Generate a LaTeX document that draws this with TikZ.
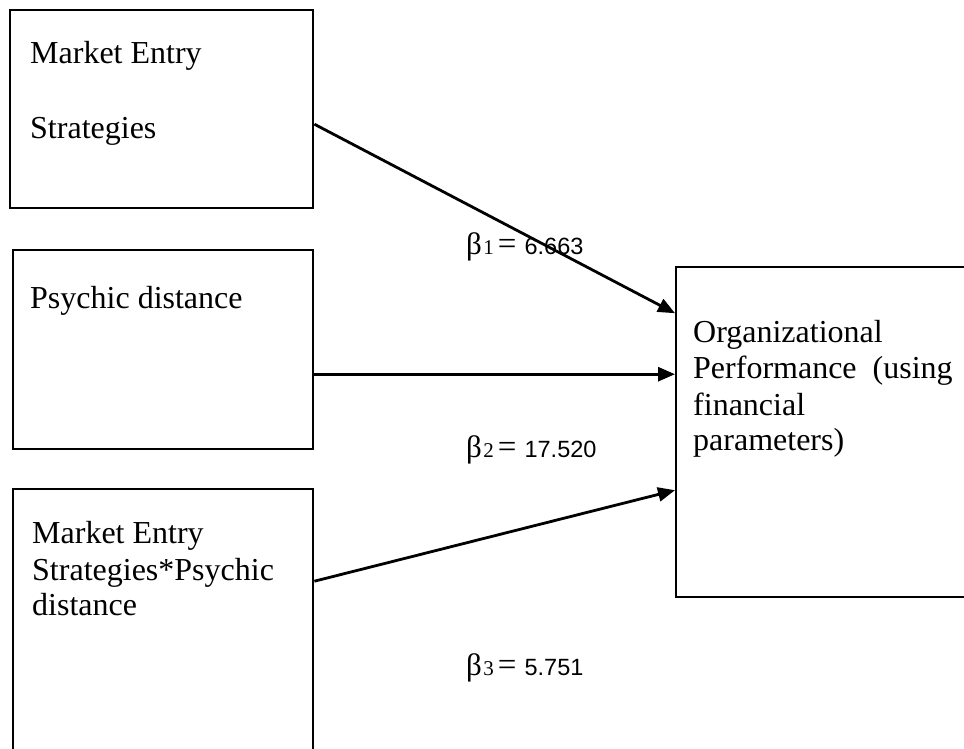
\documentclass[tikz,border=0pt]{standalone}
\usepackage{fontspec}
\setmainfont{Liberation Serif}
\newfontfamily\numfont{Liberation Sans}
\usetikzlibrary{arrows.meta}

\newcommand{\coeftext}[2]{%
  {\fontsize{31}{36}\selectfont β}\hspace{1.5pt}%
  {\fontsize{21}{25}\selectfont #1}\hspace{4pt}%
  {\fontsize{33}{38}\selectfont =}\hspace{8pt}%
  {\numfont\fontsize{23.5}{28}\selectfont #2}}

\begin{document}
\begin{tikzpicture}[x=1pt,y=-1pt,
  box/.style={draw, line width=2.4pt, rectangle, inner sep=0pt, anchor=north west},
  txt/.style={anchor=base west, inner sep=0pt, font=\fontsize{32}{38}\selectfont},
  coef/.style={anchor=base west, inner sep=0pt},
  link/.style={line width=2.8pt, -{Triangle[length=17pt,width=14pt]}}]

  % page frame
  \useasboundingbox (0,0) rectangle (964,748);
  \clip (0,0) rectangle (964,748);

  % boxes
  \node[box, minimum width=303pt, minimum height=198pt] (mes) at (9,9) {};
  \node[box, minimum width=300pt, minimum height=199pt] (pd)  at (12,249) {};
  \node[box, minimum width=300pt, minimum height=272pt] (int) at (12,488) {};
  \node[box, minimum width=305pt, minimum height=330pt] (op)  at (675,266) {};

  % box texts
  \node[txt] (t1a) at (30,63)  {Market Entry};
  \node[txt] (t1b) at (30,138) {Strategies};
  \node[txt] (t2)  at (30,308) {Psychic distance};
  \node[txt] (t3a) at (32,543) {Market Entry};
  \node[txt] (t3b) at (32,580) {Strategies*Psychic};
  \node[txt] (t3c) at (32,615) {distance};
  \node[txt] (t4a) at (693,342) {Organizational};
  \node[txt] (t4b) at (693,378) {Performance\hspace{16pt}(using};
  \node[txt] (t4c) at (693,415) {financial};
  \node[txt] (t4d) at (693,450) {parameters)};

  % connectors
  \draw[link] ([yshift=-15pt]mes.east) -- ([yshift=119pt]op.west);
  \draw[link] ([yshift=-24.5pt]pd.east) -- ([yshift=58pt]op.west);
  \draw[link] ([yshift=44pt]int.east) -- ([yshift=-58pt]op.west);

  % coefficients
  \node[coef] (b1) at (466,254) {\coeftext{1}{6.663}};
  \node[coef] (b2) at (466,457) {\coeftext{2}{17.520}};
  \node[coef] (b3) at (466,675) {\coeftext{3}{5.751}};
\end{tikzpicture}
\end{document}
